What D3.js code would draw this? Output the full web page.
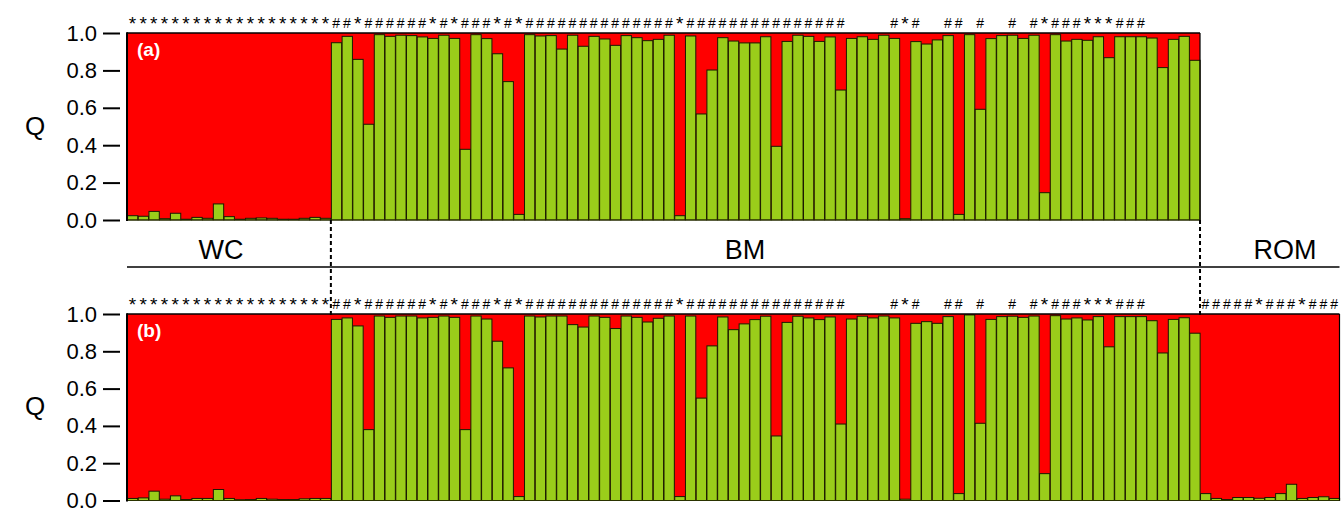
<!DOCTYPE html>
<html>
<head>
<meta charset="utf-8">
<script src="https://cdn.jsdelivr.net/npm/d3@7"></script>
<style>
  html, body { margin: 0; padding: 0; background: #fff; }
  svg { display: block; font-family: "Liberation Sans", Arial, sans-serif; }
</style>
</head>
<body>
<svg id="chart" width="1343" height="511"></svg>
<script>
// ---------------- data ----------------
const groups = ["WC", "BM", "ROM"];
const groupSizes = [19, 81, 13];
const yTicks = [0.0, 0.2, 0.4, 0.6, 0.8, 1.0];
const axisTitle = "Q";
const panelLabels = ["(a)", "(b)"];

// Panel (a): membership (green cluster) per individual
const wcA = [0.023,0.020,0.046,0.007,0.036,0.004,0.014,0.009,0.086,0.018,0.004,0.009,0.011,0.009,0.004,0.004,0.009,0.014,0.009];
const bmA = [0.948,0.982,0.859,0.512,0.991,0.982,0.988,0.986,0.979,0.971,0.988,0.971,0.378,0.991,0.970,0.889,0.740,0.030,0.991,
             0.984,0.986,0.914,0.988,0.929,0.982,0.968,0.934,0.986,0.975,0.959,0.966,0.988,0.023,0.984,0.567,0.802,0.975,0.957,0.947,0.947,0.980,0.394,0.955,0.988,0.982,0.955,0.979,0.695,0.971,0.980,0.966,0.988,0.971,
             0.007,0.954,0.941,0.963,0.986,0.030,0.991,0.592,0.970,0.986,0.988,0.971,0.988,0.146,0.991,0.957,0.966,0.961,0.980,0.868,0.980,0.980,0.980,0.973,0.815,0.966,0.982,0.854];

// Panel (b)
const wcB = [0.011,0.014,0.050,0.007,0.025,0.005,0.011,0.011,0.059,0.011,0.004,0.005,0.011,0.007,0.005,0.005,0.009,0.011,0.011];
const bmB = [0.971,0.979,0.936,0.380,0.989,0.982,0.989,0.989,0.979,0.982,0.989,0.982,0.380,0.989,0.973,0.854,0.711,0.021,0.989,
             0.984,0.989,0.989,0.943,0.930,0.989,0.982,0.922,0.989,0.982,0.957,0.977,0.989,0.021,0.989,0.549,0.829,0.984,0.916,0.947,0.970,0.988,0.346,0.955,0.988,0.979,0.970,0.984,0.410,0.973,0.988,0.979,0.989,0.979,
             0.007,0.950,0.959,0.950,0.986,0.037,0.995,0.414,0.971,0.986,0.988,0.982,0.989,0.144,0.991,0.973,0.979,0.968,0.986,0.824,0.986,0.986,0.986,0.964,0.791,0.971,0.980,0.897];
const romB = [0.037,0.011,0.005,0.016,0.016,0.012,0.016,0.037,0.087,0.011,0.016,0.020,0.011];

// significance marks above each individual
const wcMarks = "*******************";
const bmMarks = "##*######*#*###*#*" + "##############" + "*" + "###############" + "    " + "#*#" + "  " + "##" + " " + "#" + "  " + "#" + " " + "#*###***###" + "     ";
const romMarks = "#####*###*###";

// ---------------- drawing ----------------
const svg = d3.select("#chart");
const total = d3.sum(groupSizes);
const x = d3.scaleBand().domain(d3.range(total)).range([127, 1339.5]).paddingInner(0).paddingOuter(0);
const bw = x.bandwidth();

const GREEN = "#9acd1a", RED = "#ff0000";

const panels = [
  { label: panelLabels[0], y: d3.scaleLinear().domain([0, 1]).range([220, 33]),
    values: wcA.concat(bmA), marks: (wcMarks + bmMarks).split("") },
  { label: panelLabels[1], y: d3.scaleLinear().domain([0, 1]).range([500.5, 314]),
    values: wcB.concat(bmB, romB), marks: (wcMarks + bmMarks + romMarks).split("") }
];

panels.forEach(p => {
  const y = p.y;
  const n = p.values.length;
  const x0 = x(0), x1 = x(n - 1) + bw;
  const g = svg.append("g");

  // red background (second cluster)
  g.append("rect").attr("x", x0).attr("y", y(1)).attr("width", x1 - x0).attr("height", y(0) - y(1))
    .attr("fill", RED);

  // green bars
  g.selectAll("rect.bar").data(p.values).join("rect").attr("class", "bar")
    .attr("x", (d, i) => x(i) + 0.5)
    .attr("y", d => y(d))
    .attr("width", bw - 0.4)
    .attr("height", d => y(0) - y(d))
    .attr("fill", GREEN)
    .attr("stroke", "#1a1a00")
    .attr("stroke-width", 1);

  // frame
  g.append("line").attr("x1", x0).attr("x2", x1).attr("y1", y(1)).attr("y2", y(1)).attr("stroke", "#000").attr("stroke-width", 1.5);
  g.append("line").attr("x1", x1).attr("x2", x1).attr("y1", y(1)).attr("y2", y(0)).attr("stroke", "#000").attr("stroke-width", 1.2);
  g.append("line").attr("x1", x0).attr("x2", x1).attr("y1", y(0)).attr("y2", y(0)).attr("stroke", "#2a3300").attr("stroke-width", 1);
  g.append("line").attr("x1", x0).attr("x2", x0).attr("y1", y(1) - 0.75).attr("y2", y(0) + 1).attr("stroke", "#000").attr("stroke-width", 2);

  // y axis
  const ax = g.append("g").attr("transform", "translate(120,0)")
    .call(d3.axisLeft(y).tickValues(yTicks).tickFormat(d3.format(".1f")).tickSizeInner(17).tickSizeOuter(0).tickPadding(6));
  ax.select(".domain").remove();
  ax.selectAll(".tick line").attr("stroke", "#000").attr("stroke-width", 2);
  ax.selectAll(".tick text").attr("fill", "#000").style("font-size", "22px").style("font-family", "'Liberation Sans', Arial, sans-serif");

  // axis title
  g.append("text").attr("x", 35).attr("y", (y(0) + y(1)) / 2 + 8).attr("text-anchor", "middle")
    .style("font-size", "26px").attr("fill", "#000").text(axisTitle);

  // panel label
  g.append("text").attr("x", 137).attr("y", y(1) + 23).style("font-size", "19px").style("font-weight", "bold")
    .attr("fill", "#fff").text(p.label);

  // marks
  g.selectAll("text.mark").data(p.marks).join("text").attr("class", "mark")
    .attr("x", (d, i) => x(i) + bw / 2)
    .attr("y", d => d === "*" ? y(1) - 3 : y(1) - 5)
    .attr("text-anchor", "middle")
    .style("font-size", d => d === "*" ? "19px" : "14px")
    .attr("fill", "#000")
    .text(d => d === " " ? "" : d);
});

// group separators and labels between panels
const bStart = x(groupSizes[0]);
const rStart = x(groupSizes[0] + groupSizes[1]);
[bStart, rStart].forEach(xx => {
  svg.append("line").attr("x1", xx).attr("x2", xx).attr("y1", 220).attr("y2", 316)
    .attr("stroke", "#000").attr("stroke-width", 2).attr("stroke-dasharray", "4,3");
});
svg.append("line").attr("x1", 127).attr("x2", 1339.5).attr("y1", 267).attr("y2", 267)
  .attr("stroke", "#000").attr("stroke-width", 1.5);

const groupLabelX = [221, 745, 1285];
groups.forEach((gname, i) => {
  svg.append("text").attr("x", groupLabelX[i]).attr("y", 259).attr("text-anchor", "middle")
    .style("font-size", "27px").attr("fill", "#000").text(gname);
});
</script>
</body>
</html>
